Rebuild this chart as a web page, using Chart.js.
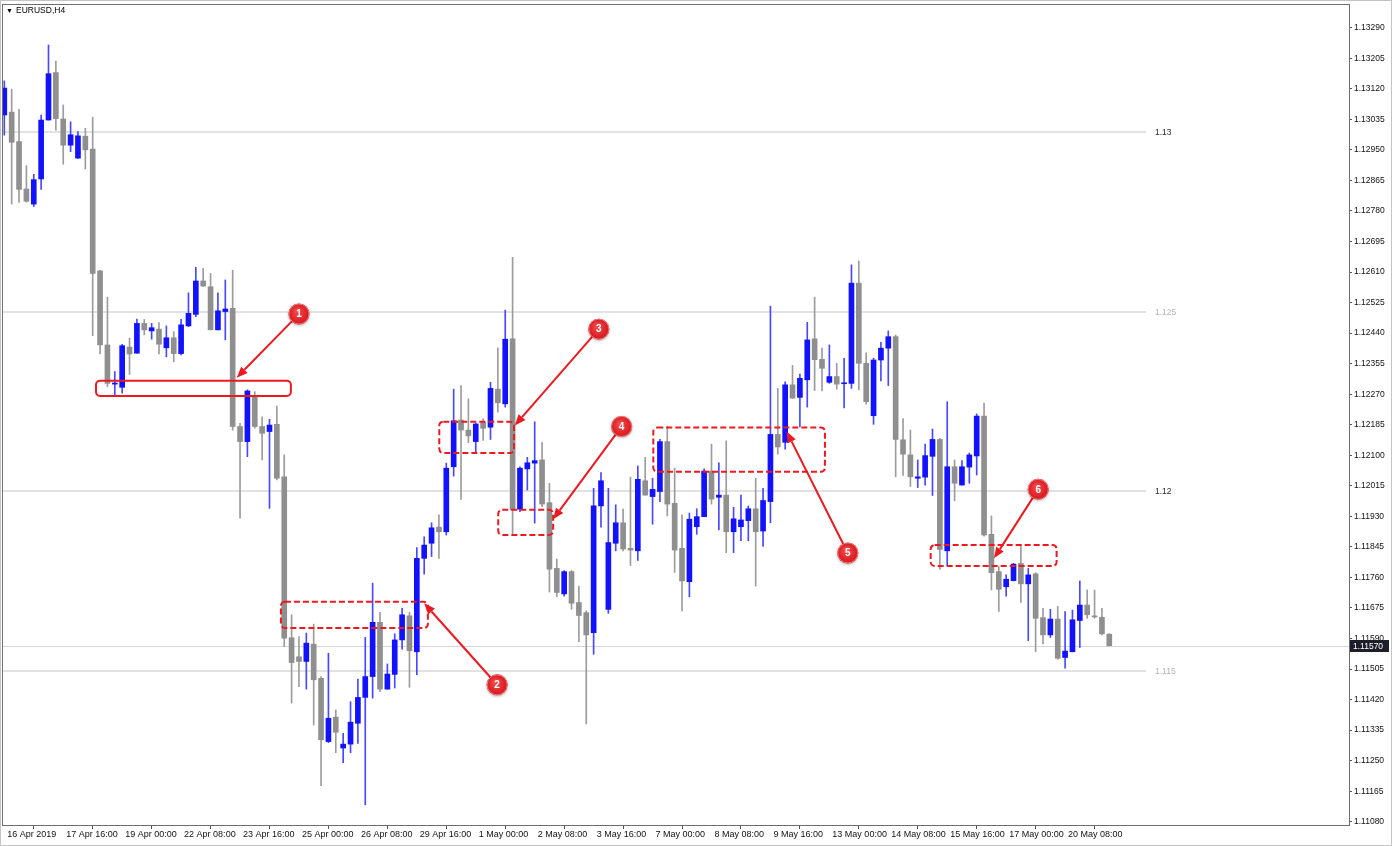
<!DOCTYPE html>
<html lang="en">
<head>
    <meta charset="UTF-8">
    <title>EURUSD,H4</title>
    <script src="https://cdn.jsdelivr.net/npm/chart.js"></script>
    <style>
        html, body { margin: 0; padding: 0; background: #ffffff; }
        #wrap { width: 1392px; height: 846px; }
    </style>
</head>
<body>
<div id="wrap"><canvas id="chart" width="1392" height="846"></canvas></div>
<script>
    // EURUSD H4 candles (bar 0 = 16 Apr 2019)
    const opens = [
        1.13047, 1.13055, 1.12973, 1.12841, 1.12799, 1.12869, 1.13033, 1.13165, 1.13036, 1.12963,
        1.12927, 1.12988, 1.12952, 1.12613, 1.12407, 1.12298, 1.12289, 1.12401, 1.12384, 1.12467,
        1.12446, 1.12451, 1.12399, 1.12427, 1.12383, 1.12460, 1.12492, 1.12585, 1.12569, 1.12449,
        1.12500, 1.12509, 1.12180, 1.12138, 1.12263, 1.12180, 1.12166, 1.12186, 1.12040, 1.11592,
        1.11539, 1.11526, 1.11574, 1.11479, 1.11303, 1.11371, 1.11285, 1.11296, 1.11354, 1.11426,
        1.11484, 1.11635, 1.11449, 1.11490, 1.11586, 1.11653, 1.11553, 1.11813, 1.11855, 1.11900,
        1.11887, 1.12068, 1.12198, 1.12170, 1.12138, 1.12191, 1.12178, 1.12284, 1.12243, 1.12424,
        1.11950, 1.12062, 1.12078, 1.12087, 1.11968, 1.11785, 1.11714, 1.11776, 1.11690, 1.11662,
        1.11606, 1.11959, 1.11671, 1.11855, 1.11912, 1.11841, 1.11834, 1.12029, 1.11985, 1.11999,
        1.12138, 1.11966, 1.11841, 1.11748, 1.11901, 1.11929, 1.12056, 1.11983, 1.11989, 1.11887,
        1.11901, 1.11918, 1.11951, 1.11889, 1.11971, 1.12158, 1.12136, 1.12296, 1.12261, 1.12310,
        1.12424, 1.12367, 1.12303, 1.12319, 1.12299, 1.12300, 1.12579, 1.12356, 1.12210, 1.12365,
        1.12398, 1.12430, 1.12143, 1.12101, 1.12036, 1.12039, 1.12097, 1.12144, 1.11834, 1.12068,
        1.12017, 1.12067, 1.12098, 1.12209, 1.11880, 1.11776, 1.11734, 1.11751, 1.11799, 1.11742,
        1.11770, 1.11648, 1.11600, 1.11644, 1.11537, 1.11553, 1.11640, 1.11683, 1.11653, 1.11649,
        1.11602
    ];
    const highs = [
        1.13142, 1.13119, 1.13063, 1.12906, 1.12882, 1.13047, 1.13242, 1.13197, 1.13075, 1.13028,
        1.13001, 1.13010, 1.13041, 1.12615, 1.12540, 1.12333, 1.12409, 1.12426, 1.12479, 1.12478,
        1.12467, 1.12469, 1.12460, 1.12444, 1.12478, 1.12552, 1.12623, 1.12620, 1.12606, 1.12552,
        1.12588, 1.12615, 1.12189, 1.12282, 1.12277, 1.12207, 1.12200, 1.12237, 1.12101, 1.11656,
        1.11595, 1.11605, 1.11630, 1.11484, 1.11549, 1.11391, 1.11326, 1.11414, 1.11477, 1.11593,
        1.11744, 1.11663, 1.11519, 1.11603, 1.11674, 1.11663, 1.11843, 1.11873, 1.11912, 1.11934,
        1.12078, 1.12284, 1.12294, 1.12257, 1.12189, 1.12201, 1.12303, 1.12399, 1.12504, 1.12651,
        1.12068, 1.12094, 1.12193, 1.12135, 1.12022, 1.11811, 1.11779, 1.11779, 1.11736, 1.11667,
        1.12008, 1.12052, 1.12008, 1.11962, 1.11950, 1.12039, 1.12070, 1.12094, 1.12036, 1.12144,
        1.12181, 1.12064, 1.11934, 1.11939, 1.11951, 1.12062, 1.12131, 1.12079, 1.12140, 1.11955,
        1.11989, 1.11959, 1.12036, 1.12008, 1.12515, 1.12286, 1.12304, 1.12350, 1.12326, 1.12470,
        1.12540, 1.12398, 1.12407, 1.12356, 1.12370, 1.12630, 1.12641, 1.12385, 1.12370, 1.12414,
        1.12446, 1.12435, 1.12202, 1.12170, 1.12087, 1.12131, 1.12173, 1.12147, 1.12249, 1.12087,
        1.12085, 1.12106, 1.12215, 1.12245, 1.11931, 1.11790, 1.11767, 1.11799, 1.11850, 1.11785,
        1.11773, 1.11674, 1.11671, 1.11679, 1.11665, 1.11669, 1.11750, 1.11725, 1.11725, 1.11674,
        1.11603
    ];
    const lows = [
        1.12991, 1.12799, 1.12804, 1.12804, 1.12792, 1.12840, 1.13033, 1.13005, 1.12910, 1.12945,
        1.12926, 1.12897, 1.12433, 1.12382, 1.12291, 1.12266, 1.12273, 1.12325, 1.12384, 1.12435,
        1.12423, 1.12382, 1.12374, 1.12360, 1.12379, 1.12458, 1.12486, 1.12569, 1.12449, 1.12449,
        1.12421, 1.12170, 1.11925, 1.12096, 1.12175, 1.12087, 1.11952, 1.12031, 1.11567, 1.11410,
        1.11456, 1.11449, 1.11349, 1.11180, 1.11300, 1.11272, 1.11244, 1.11272, 1.11298, 1.11127,
        1.11424, 1.11442, 1.11449, 1.11452, 1.11560, 1.11454, 1.11489, 1.11769, 1.11818, 1.11813,
        1.11878, 1.12042, 1.11977, 1.12135, 1.12106, 1.12141, 1.12144, 1.12220, 1.12234, 1.11878,
        1.11943, 1.12003, 1.11911, 1.11957, 1.11719, 1.11706, 1.11708, 1.11671, 1.11581, 1.11352,
        1.11546, 1.11900, 1.11660, 1.11834, 1.11834, 1.11793, 1.11807, 1.11989, 1.11908, 1.11971,
        1.11931, 1.11774, 1.11667, 1.11706, 1.11880, 1.11929, 1.11964, 1.11892, 1.11829, 1.11829,
        1.11862, 1.11862, 1.11736, 1.11846, 1.11912, 1.12103, 1.12117, 1.12258, 1.12179, 1.12234,
        1.12280, 1.12279, 1.12300, 1.12284, 1.12232, 1.12286, 1.12282, 1.12242, 1.12186, 1.12307,
        1.12294, 1.12040, 1.12044, 1.12013, 1.12010, 1.12017, 1.11988, 1.11783, 1.11793, 1.11973,
        1.12017, 1.12022, 1.12045, 1.11875, 1.11725, 1.11665, 1.11708, 1.11750, 1.11690, 1.11584,
        1.11553, 1.11575, 1.11593, 1.11532, 1.11507, 1.11553, 1.11565, 1.11646, 1.11646, 1.11600,
        1.11569
    ];
    const closes = [
        1.13122, 1.12971, 1.12840, 1.12807, 1.12867, 1.13033, 1.13162, 1.13037, 1.12963, 1.12992,
        1.12989, 1.12950, 1.12606, 1.12407, 1.12300, 1.12301, 1.12405, 1.12382, 1.12467, 1.12449,
        1.12455, 1.12409, 1.12427, 1.12383, 1.12463, 1.12495, 1.12585, 1.12571, 1.12449, 1.12502,
        1.12507, 1.12180, 1.12138, 1.12279, 1.12180, 1.12161, 1.12184, 1.12036, 1.11591, 1.11523,
        1.11526, 1.11577, 1.11475, 1.11308, 1.11368, 1.11329, 1.11296, 1.11357, 1.11426, 1.11484,
        1.11635, 1.11449, 1.11491, 1.11586, 1.11656, 1.11556, 1.11813, 1.11850, 1.11898, 1.11887,
        1.12064, 1.12196, 1.12170, 1.12154, 1.12187, 1.12175, 1.12286, 1.12246, 1.12423, 1.11948,
        1.12064, 1.12079, 1.12085, 1.11964, 1.11783, 1.11718, 1.11776, 1.11688, 1.11654, 1.11600,
        1.11959, 1.12029, 1.11857, 1.11912, 1.11839, 1.11836, 1.12033, 1.11989, 1.12005, 1.12138,
        1.11964, 1.11836, 1.11750, 1.11922, 1.11929, 1.12056, 1.11978, 1.11989, 1.11887, 1.11923,
        1.11920, 1.11951, 1.11887, 1.11974, 1.12158, 1.12123, 1.12296, 1.12259, 1.12314, 1.12421,
        1.12366, 1.12342, 1.12319, 1.12298, 1.12301, 1.12579, 1.12356, 1.12249, 1.12365, 1.12398,
        1.12430, 1.12144, 1.12103, 1.12040, 1.12040, 1.12099, 1.12144, 1.11838, 1.12068, 1.12022,
        1.12068, 1.12101, 1.12209, 1.11878, 1.11773, 1.11727, 1.11755, 1.11797, 1.11742, 1.11767,
        1.11646, 1.11600, 1.11644, 1.11535, 1.11555, 1.11642, 1.11683, 1.11656, 1.11650, 1.11603,
        1.11570
    ];

    // time axis labels (one every 8 bars)
    const xLabelBars = [0, 8, 16, 24, 32, 40, 48, 56, 64, 72, 80, 88, 96, 104, 112, 120, 128, 136, 144];
    const xLabelText = ['16 Apr 2019', '17 Apr 16:00', '19 Apr 00:00', '22 Apr 08:00', '23 Apr 16:00',
        '25 Apr 00:00', '26 Apr 08:00', '29 Apr 16:00', '1 May 00:00', '2 May 08:00', '3 May 16:00',
        '7 May 00:00', '8 May 08:00', '9 May 16:00', '13 May 00:00', '14 May 08:00', '15 May 16:00',
        '17 May 00:00', '20 May 08:00'];

    // price scale labels
    const yTicks = [1.11080, 1.11165, 1.11250, 1.11335, 1.11420, 1.11505, 1.11590, 1.11675, 1.11760,
        1.11845, 1.11930, 1.12015, 1.12100, 1.12185, 1.12270, 1.12355, 1.12440, 1.12525, 1.12610,
        1.12695, 1.12780, 1.12865, 1.12950, 1.13035, 1.13120, 1.13205, 1.13290];

    // round number levels
    const roundLevels = [1.13, 1.125, 1.12, 1.115];
    const roundLabels = ['1.13', '1.125', '1.12', '1.115'];
    const roundStrong = [true, false, true, false];

    // annotations, in bar index / price units
    const boxes = [
        { x0: 12.45, x1: 38.9, p0: 1.12307, p1: 1.12265, dashed: false },
        { x0: 37.55, x1: 57.5, p0: 1.11692, p1: 1.11619, dashed: true },
        { x0: 59.05, x1: 69.2, p0: 1.12193, p1: 1.12106, dashed: true },
        { x0: 67.05, x1: 74.5, p0: 1.11948, p1: 1.11878, dashed: true },
        { x0: 88.1, x1: 111.4, p0: 1.12177, p1: 1.12054, dashed: true },
        { x0: 125.75, x1: 142.85, p0: 1.11850, p1: 1.11792, dashed: true }
    ];
    const markers = [
        { n: '1', x: 40.0, p: 1.12493, tx: 31.55, tp: 1.12316 },
        { n: '2', x: 66.9, p: 1.11461, tx: 57.0, tp: 1.11688 },
        { n: '3', x: 80.7, p: 1.12451, tx: 69.3, tp: 1.12183 },
        { n: '4', x: 83.8, p: 1.12180, tx: 74.5, tp: 1.11922 },
        { n: '5', x: 114.5, p: 1.11828, tx: 106.2, tp: 1.12166 },
        { n: '6', x: 140.35, p: 1.12005, tx: 134.35, tp: 1.11813 }
    ];

    const BLUE = '#1212ff';
    const BLUE_WICK = '#4848ff';
    const GRAY = '#8f8f8f';
    const GRAY_WICK = '#9c9c9c';
    const RED = '#ea1a20';
    const FONT = '"Liberation Sans", Arial, sans-serif';

    Chart.defaults.font.family = FONT;

    const isUp = opens.map((o, i) => closes[i] >= o);
    const bodyData = opens.map((o, i) => ({ x: i, y: [o, closes[i]] }));
    const wickData = lows.map((l, i) => ({ x: i, y: [l, highs[i]] }));

    function roundedRect(ctx, x, y, w, h, r) {
        ctx.beginPath();
        ctx.moveTo(x + r, y);
        ctx.lineTo(x + w - r, y);
        ctx.arcTo(x + w, y, x + w, y + r, r);
        ctx.lineTo(x + w, y + h - r);
        ctx.arcTo(x + w, y + h, x + w - r, y + h, r);
        ctx.lineTo(x + r, y + h);
        ctx.arcTo(x, y + h, x, y + h - r, r);
        ctx.lineTo(x, y + r);
        ctx.arcTo(x, y, x + r, y, r);
        ctx.closePath();
    }

    function drawArrow(ctx, x0, y0, x1, y1) {
        const ang = Math.atan2(y1 - y0, x1 - x0);
        const head = 11, half = 4.5;
        const bx = x1 - head * Math.cos(ang), by = y1 - head * Math.sin(ang);
        ctx.strokeStyle = RED;
        ctx.lineWidth = 2;
        ctx.setLineDash([]);
        ctx.beginPath();
        ctx.moveTo(x0, y0);
        ctx.lineTo(bx, by);
        ctx.stroke();
        ctx.fillStyle = RED;
        ctx.beginPath();
        ctx.moveTo(x1, y1);
        ctx.lineTo(bx + half * Math.sin(ang), by - half * Math.cos(ang));
        ctx.lineTo(bx - half * Math.sin(ang), by + half * Math.cos(ang));
        ctx.closePath();
        ctx.fill();
    }

    const mtOverlay = {
        id: 'mtOverlay',
        beforeDatasetsDraw(chart) {
            const { ctx, chartArea: a, scales: { x, y } } = chart;
            ctx.save();
            // round number lines with their labels
            ctx.font = '8.5px ' + FONT;
            ctx.textBaseline = 'middle';
            ctx.textAlign = 'left';
            roundLevels.forEach((lv, i) => {
                const py = Math.round(y.getPixelForValue(lv));
                ctx.strokeStyle = '#e2e2e2';
                ctx.lineWidth = 2;
                ctx.beginPath();
                ctx.moveTo(a.left, py);
                ctx.lineTo(x.getPixelForValue(155), py);
                ctx.stroke();
                ctx.fillStyle = roundStrong[i] ? '#2a2a2a' : '#b4b4b4';
                ctx.fillText(roundLabels[i], x.getPixelForValue(156.2), py + 0.5);
            });
            // bid line
            const by = Math.round(y.getPixelForValue(closes[closes.length - 1])) + 0.5;
            ctx.strokeStyle = '#d6d6d6';
            ctx.lineWidth = 1;
            ctx.beginPath();
            ctx.moveTo(a.left, by);
            ctx.lineTo(a.right, by);
            ctx.stroke();
            ctx.restore();
        },
        afterDatasetsDraw(chart) {
            const { ctx, scales: { x, y } } = chart;
            ctx.save();
            // boxes
            boxes.forEach(b => {
                const left = x.getPixelForValue(b.x0), right = x.getPixelForValue(b.x1);
                const top = y.getPixelForValue(b.p0), bottom = y.getPixelForValue(b.p1);
                ctx.strokeStyle = RED;
                ctx.lineWidth = 2;
                ctx.setLineDash(b.dashed ? [6, 3] : []);
                roundedRect(ctx, left, top, right - left, bottom - top, 4);
                ctx.stroke();
            });
            ctx.setLineDash([]);
            // arrows
            const r = 10.5;
            markers.forEach(m => {
                const cx = x.getPixelForValue(m.x), cy = y.getPixelForValue(m.p);
                const tx = x.getPixelForValue(m.tx), ty = y.getPixelForValue(m.tp);
                const ang = Math.atan2(ty - cy, tx - cx);
                drawArrow(ctx, cx + (r - 1) * Math.cos(ang), cy + (r - 1) * Math.sin(ang), tx, ty);
            });
            // numbered markers
            markers.forEach(m => {
                const cx = x.getPixelForValue(m.x), cy = y.getPixelForValue(m.p);
                ctx.save();
                ctx.shadowColor = 'rgba(0,0,0,0.3)';
                ctx.shadowBlur = 3;
                ctx.shadowOffsetY = 1;
                const g = ctx.createRadialGradient(cx - 2, cy - 3, 1, cx, cy, r);
                g.addColorStop(0, '#f24a4a');
                g.addColorStop(0.8, '#dc2026');
                g.addColorStop(1, '#c8161c');
                ctx.fillStyle = g;
                ctx.beginPath();
                ctx.arc(cx, cy, r, 0, Math.PI * 2);
                ctx.fill();
                ctx.restore();
                ctx.strokeStyle = 'rgba(255,140,140,0.8)';
                ctx.lineWidth = 1;
                ctx.beginPath();
                ctx.arc(cx, cy, r - 0.5, 0, Math.PI * 2);
                ctx.stroke();
                ctx.fillStyle = '#ffffff';
                ctx.font = 'bold 10px ' + FONT;
                ctx.textAlign = 'center';
                ctx.textBaseline = 'middle';
                ctx.fillText(m.n, cx, cy + 0.5);
            });
            ctx.restore();
        },
        afterDraw(chart) {
            const { ctx, chartArea: a, scales: { y } } = chart;
            const W = chart.width, H = chart.height;
            ctx.save();
            // outer frame
            ctx.strokeStyle = '#c4c4c4';
            ctx.lineWidth = 1;
            ctx.strokeRect(0.5, 0.5, W - 1, H - 1);
            // plot frame
            ctx.strokeStyle = '#6e6e6e';
            ctx.strokeRect(a.left + 0.5, a.top + 0.5, a.right - a.left, a.bottom - a.top);
            // current price tag
            const py = Math.round(y.getPixelForValue(closes[closes.length - 1]));
            ctx.fillStyle = '#1e1e2a';
            ctx.fillRect(a.right + 1, py - 6, 39, 12);
            ctx.fillStyle = '#ffffff';
            ctx.font = '8.5px ' + FONT;
            ctx.textAlign = 'left';
            ctx.textBaseline = 'middle';
            ctx.fillText(closes[closes.length - 1].toFixed(5), a.right + 4, py + 0.5);
            // symbol title
            ctx.fillStyle = '#000000';
            ctx.font = '7px ' + FONT;
            ctx.fillText('\u25BC', 6, 11);
            ctx.font = '8.5px ' + FONT;
            ctx.fillText('EURUSD,H4', 16, 11);
            ctx.restore();
        }
    };

    const ctx = document.getElementById('chart').getContext('2d');
    new Chart(ctx, {
        type: 'bar',
        data: {
            datasets: [
                {
                    label: 'body',
                    data: bodyData,
                    backgroundColor: isUp.map(u => u ? BLUE : GRAY),
                    borderWidth: 0,
                    barThickness: 5,
                    minBarLength: 1,
                    grouped: false,
                    order: 0
                },
                {
                    label: 'wick',
                    data: wickData,
                    backgroundColor: isUp.map(u => u ? BLUE_WICK : GRAY_WICK),
                    borderWidth: 0,
                    barThickness: 1,
                    grouped: false,
                    order: 1
                }
            ]
        },
        options: {
            responsive: false,
            animation: false,
            devicePixelRatio: 1,
            layout: { padding: { left: 2, top: 4, right: 0, bottom: 0 } },
            plugins: { legend: { display: false }, tooltip: { enabled: false } },
            scales: {
                x: {
                    type: 'linear',
                    position: 'bottom',
                    min: -0.312,
                    max: 182.54,
                    offset: false,
                    afterBuildTicks: s => { s.ticks = xLabelBars.map(v => ({ value: v })); },
                    afterFit: s => { s.height = 21; s.paddingLeft = 0; s.paddingRight = 0; },
                    grid: { drawOnChartArea: false, drawTicks: true, tickLength: 4, color: '#555555' },
                    border: { display: true, color: '#6e6e6e' },
                    ticks: {
                        autoSkip: false,
                        maxRotation: 0,
                        minRotation: 0,
                        align: 'start',
                        labelOffset: 3,
                        padding: 0,
                        color: '#111111',
                        font: { size: 9 },
                        callback: (v, i) => xLabelText[i]
                    }
                },
                y: {
                    type: 'linear',
                    position: 'right',
                    min: 1.1107082,
                    max: 1.1335597,
                    afterBuildTicks: s => { s.ticks = yTicks.map(v => ({ value: v })); },
                    afterFit: s => { s.width = 43; s.paddingTop = 0; s.paddingBottom = 0; },
                    grid: { drawOnChartArea: false, drawTicks: true, tickLength: 3, color: '#555555' },
                    border: { display: true, color: '#6e6e6e' },
                    ticks: {
                        padding: 2,
                        color: '#111111',
                        font: { size: 8.5 },
                        callback: v => v.toFixed(5)
                    }
                }
            }
        },
        plugins: [mtOverlay]
    });
</script>
</body>
</html>
